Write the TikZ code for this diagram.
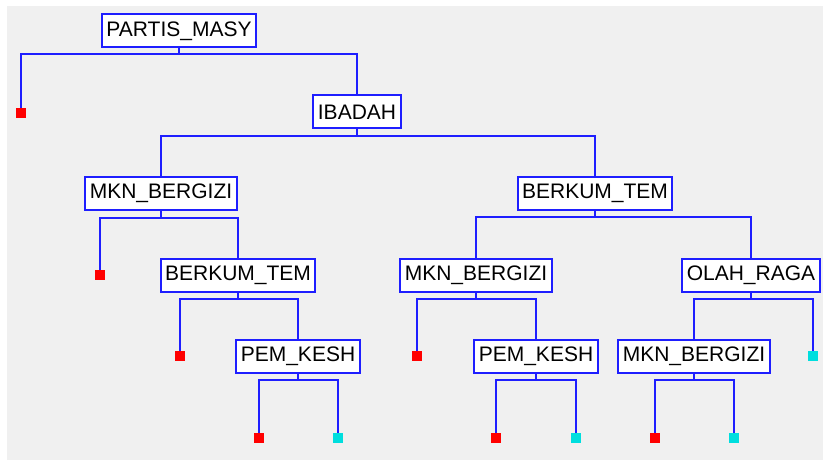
\documentclass[tikz,border=0pt]{standalone}
\usepackage{fontspec}
\setmainfont{Liberation Sans}
\definecolor{panel}{RGB}{240,240,240}
\definecolor{treeblue}{RGB}{30,30,255}
\definecolor{leafred}{RGB}{255,0,0}
\definecolor{leafcyan}{RGB}{0,222,222}
\begin{document}
\begin{tikzpicture}[x=1pt,y=-1pt,
  box/.style={draw=treeblue,line width=2pt,fill=white,minimum height=33pt,
    inner xsep=4.5pt,inner ysep=0pt,font=\fontsize{21}{24}\selectfont,text=black},
  leaf/.style={minimum size=10pt,inner sep=0pt,outer sep=0pt},
  redleaf/.style={leaf,fill=leafred},
  cyanleaf/.style={leaf,fill=leafcyan},
  link/.style={draw=treeblue,line width=2pt}]
\useasboundingbox (0,0) rectangle (823,460);
\fill[white] (0,0) rectangle (823,460);
\fill[panel] (7,6) rectangle (823,460);

% decision nodes
\node[box] (pm)  at (179,31)  {PARTIS\_MASY};
\node[box] (ib)  at (357,112) {IBADAH};
\node[box] (mk1) at (161,193) {MKN\_BERGIZI};
\node[box] (bt1) at (595,193) {BERKUM\_TEM};
\node[box] (bt2) at (238,275) {BERKUM\_TEM};
\node[box] (mk2) at (476,275) {MKN\_BERGIZI};
\node[box] (ol)  at (751,275) {OLAH\_RAGA};
\node[box] (pk1) at (298,356) {PEM\_KESH};
\node[box] (pk2) at (536,356) {PEM\_KESH};
\node[box] (mk3) at (694,356) {MKN\_BERGIZI};

% leaves
\node[redleaf]  (l0)  at (21,113)  {};
\node[redleaf]  (l1)  at (100,275) {};
\node[redleaf]  (l2)  at (180,356) {};
\node[redleaf]  (l3)  at (259,438) {};
\node[cyanleaf] (l4)  at (338,438) {};
\node[redleaf]  (l5)  at (417,356) {};
\node[redleaf]  (l6)  at (496,438) {};
\node[cyanleaf] (l7)  at (576,438) {};
\node[redleaf]  (l8)  at (655,438) {};
\node[cyanleaf] (l9)  at (734,438) {};
\node[cyanleaf] (l10) at (813,356) {};

% branches: down from the parent, across, then down into each child
\draw[link] (pm.south)  -- ++(0,6) -| (l0.north);
\draw[link] (pm.south)  -- ++(0,6) -| (ib.north);
\draw[link] (ib.south)  -- ++(0,7) -| (mk1.north);
\draw[link] (ib.south)  -- ++(0,7) -| (bt1.north);
\draw[link] (mk1.south) -- ++(0,7) -| (l1.north);
\draw[link] (mk1.south) -- ++(0,7) -| (bt2.north);
\draw[link] (bt1.south) -- ++(0,6) -| (mk2.north);
\draw[link] (bt1.south) -- ++(0,6) -| (ol.north);
\draw[link] (bt2.south) -- ++(0,6) -| (l2.north);
\draw[link] (bt2.south) -- ++(0,6) -| (pk1.north);
\draw[link] (mk2.south) -- ++(0,6) -| (l5.north);
\draw[link] (mk2.south) -- ++(0,6) -| (pk2.north);
\draw[link] (ol.south)  -- ++(0,6) -| (mk3.north);
\draw[link] (ol.south)  -- ++(0,6) -| (l10.north);
\draw[link] (pk1.south) -- ++(0,6) -| (l3.north);
\draw[link] (pk1.south) -- ++(0,6) -| (l4.north);
\draw[link] (pk2.south) -- ++(0,6) -| (l6.north);
\draw[link] (pk2.south) -- ++(0,6) -| (l7.north);
\draw[link] (mk3.south) -- ++(0,6) -| (l8.north);
\draw[link] (mk3.south) -- ++(0,6) -| (l9.north);
\end{tikzpicture}
\end{document}
